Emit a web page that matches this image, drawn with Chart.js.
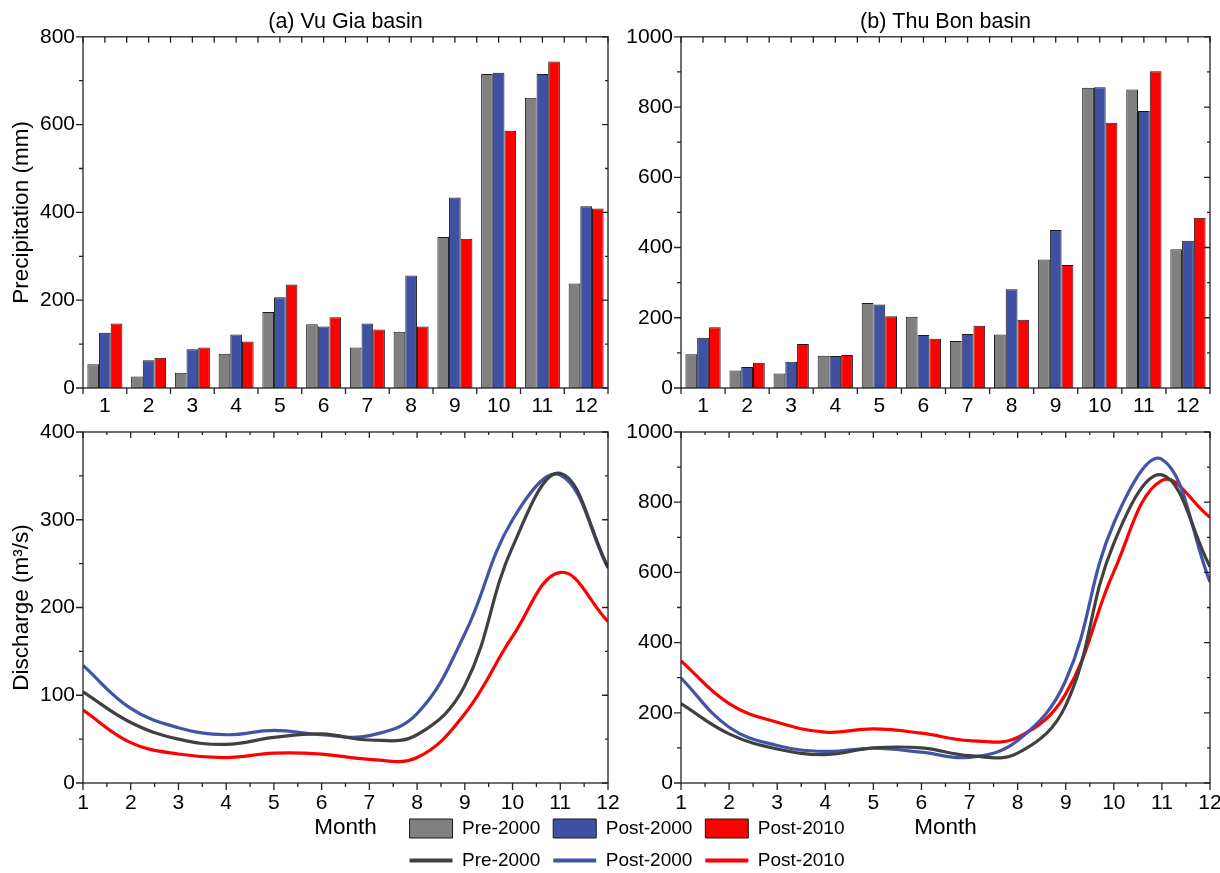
<!DOCTYPE html>
<html><head><meta charset="utf-8">
<script src="https://cdn.jsdelivr.net/npm/chart.js@4.4.0/dist/chart.umd.min.js"></script>
<style>
html,body{margin:0;padding:0;background:#fff;overflow:hidden;width:1220px;height:873px;position:relative;}
canvas{position:absolute;}
</style></head><body>
<canvas id="c1" width="620" height="420" style="left:0;top:0"></canvas>
<canvas id="c3" width="640" height="473" style="left:0;top:400px"></canvas>
<canvas id="c2" width="620" height="420" style="left:620px;top:0"></canvas>
<canvas id="c4" width="620" height="473" style="left:620px;top:400px"></canvas>
<canvas id="c5" width="500" height="160" style="left:377px;top:806px"></canvas>
<script>
// ---- data ----
const monthLabels = ['1','2','3','4','5','6','7','8','9','10','11','12'];
const monthNums = [1,2,3,4,5,6,7,8,9,10,11,12];
const seriesNames = ['Pre-2000','Post-2000','Post-2010'];

const vgPrecipPre2000  = [54,26,35,78,173,145,92,128,344,715,661,238];
const vgPrecipPost2000 = [126,63,88,122,207,140,147,256,434,718,715,414];
const vgPrecipPost2010 = [147,69,92,106,236,161,133,140,340,586,744,409];

const tbPrecipPre2000  = [96,50,41,92,242,203,134,152,366,855,850,395];
const tbPrecipPost2000 = [143,60,75,91,238,151,154,281,450,856,789,419];
const tbPrecipPost2010 = [173,72,125,94,204,140,177,194,350,755,902,485];

const vgFlowPre2000  = [104,69,50,44,52,56,49,55,111,269,353,246];
const vgFlowPost2000 = [134,85,63,55,60,55,54,79,170,300,351,245];
const vgFlowPost2010 = [83,46,33,29,34,33,27,29,79,167,240,184];

const tbFlowPre2000  = [226,140,97,81,100,100,78,85,221,683,878,616];
const tbFlowPost2000 = [299,159,107,90,99,88,73,121,292,740,922,573];
const tbFlowPost2010 = [348,226,173,145,154,142,121,130,254,602,862,757];

const barColors  = ['#808080','#3F51A3','#FF0000'];
const lineColors = ['#404040','#4453A8','#FF0000'];
const F = "'Liberation Sans', Arial, sans-serif";
Chart.defaults.font.family = F;
Chart.defaults.color = '#000';

// ---- frame / ticks plugin ----
const framePlugin = {
  id: 'frame',
  afterDatasetsDraw(chart, args, opts) {
    const {ctx, chartArea: a, scales} = chart;
    ctx.save();
    ctx.strokeStyle = '#222';
    ctx.lineWidth = 1.3;
    ctx.strokeRect(a.left, a.top, a.right - a.left, a.bottom - a.top);
    ctx.beginPath();
    const y = scales.y;
    for (let v = y.min; v <= y.max + 1e-9; v += opts.yMinor) {
      const py = y.getPixelForValue(v);
      const r = v / opts.yMajor;
      const major = Math.abs(r - Math.round(r)) < 1e-6;
      ctx.moveTo(a.left - (major ? 7 : 4), py); ctx.lineTo(a.left, py);
      ctx.moveTo(a.right, py); ctx.lineTo(a.right - (major ? 6 : 3), py);
    }
    const x = scales.x;
    if (opts.category) {
      const n = chart.data.labels.length;
      const w = (a.right - a.left) / n;
      for (let i = 0; i <= n; i++) {
        const px = a.left + i * w;
        ctx.moveTo(px, a.bottom); ctx.lineTo(px, a.bottom + 6);
        ctx.moveTo(px, a.top); ctx.lineTo(px, a.top + 6);
      }
      for (let i = 0; i < n; i++) {
        const px = a.left + (i + 0.5) * w;
        ctx.moveTo(px, a.top); ctx.lineTo(px, a.top + 6);
      }
    } else {
      for (let v = x.min; v <= x.max + 1e-9; v += 0.5) {
        const px = x.getPixelForValue(v);
        const major = Math.abs(v - Math.round(v)) < 1e-6;
        ctx.moveTo(px, a.bottom); ctx.lineTo(px, a.bottom + (major ? 7 : 4));
        ctx.moveTo(px, a.top); ctx.lineTo(px, a.top + (major ? 6 : 3));
      }
    }
    ctx.stroke();
    ctx.restore();
  }
};

const TICK = 21, AXT = 22.5;

function barChart(id, title, vals, yMax, yStep, yTitle, yWidth, padRight) {
  return new Chart(document.getElementById(id), {
    type: 'bar',
    data: {
      labels: monthLabels,
      datasets: vals.map((d, i) => ({
        label: seriesNames[i], data: d,
        backgroundColor: barColors[i], borderColor: '#1a1a1a', borderWidth: 1,
        barPercentage: 1.0, categoryPercentage: 0.8
      }))
    },
    options: {
      responsive: false, animation: false,
      layout: {padding: {left: 0, right: padRight, top: 0, bottom: 0}},
      plugins: {
        legend: {display: false}, tooltip: {enabled: false},
        title: {display: true, text: title, fullSize: false, color: '#000',
                font: {size: 21.5, weight: 'normal'}, padding: {top: 9, bottom: 2}},
        frame: {category: true, yMajor: yStep, yMinor: yStep / 2}
      },
      scales: {
        x: {
          grid: {display: false, drawTicks: false}, border: {display: false},
          ticks: {font: {size: TICK}, color: '#000', padding: 6, maxRotation: 0, autoSkip: false},
          afterFit: s => { s.height = 32; }
        },
        y: {
          min: 0, max: yMax,
          grid: {display: false, drawTicks: false}, border: {display: false},
          ticks: {stepSize: yStep, font: {size: TICK}, color: '#000', padding: 8, callback: v => String(v)},
          title: {display: !!yTitle, text: yTitle, color: '#000', font: {size: AXT}, padding: {top: 8, bottom: 0}},
          afterFit: s => { s.width = yWidth; }
        }
      }
    },
    plugins: [framePlugin]
  });
}

function lineChart(id, vals, yMax, yStep, yTitle, yWidth, padRight) {
  return new Chart(document.getElementById(id), {
    type: 'line',
    data: {
      datasets: vals.map((d, i) => ({
        label: seriesNames[i],
        data: monthNums.map((m, k) => ({x: m, y: d[k]})),
        borderColor: lineColors[i], borderWidth: 3.2, pointRadius: 0,
        tension: 0.4, fill: false
      }))
    },
    options: {
      responsive: false, animation: false,
      layout: {padding: {left: 0, right: padRight, top: 32, bottom: 0}},
      plugins: {
        legend: {display: false}, tooltip: {enabled: false},
        frame: {category: false, yMajor: yStep, yMinor: yStep / 2}
      },
      scales: {
        x: {
          type: 'linear', min: 1, max: 12,
          grid: {display: false, drawTicks: false}, border: {display: false},
          ticks: {stepSize: 1, font: {size: TICK}, color: '#000', padding: 8, maxRotation: 0, autoSkip: false, callback: v => String(v)},
          title: {display: true, text: 'Month', color: '#000', font: {size: AXT}, padding: {top: 0, bottom: 32}},
          afterFit: s => { s.height = 90; }
        },
        y: {
          min: 0, max: yMax,
          grid: {display: false, drawTicks: false}, border: {display: false},
          ticks: {stepSize: yStep, font: {size: TICK}, color: '#000', padding: 8, callback: v => String(v)},
          title: {display: !!yTitle, text: yTitle, color: '#000', font: {size: AXT}, padding: {top: 8, bottom: 0}},
          afterFit: s => { s.width = yWidth; }
        }
      }
    },
    plugins: [framePlugin]
  });
}

barChart('c1', '(a) Vu Gia basin', [vgPrecipPre2000, vgPrecipPost2000, vgPrecipPost2010], 800, 200, 'Precipitation (mm)', 83, 12);
barChart('c2', '(b) Thu Bon basin', [tbPrecipPre2000, tbPrecipPost2000, tbPrecipPost2010], 1000, 200, '', 61, 30);
lineChart('c3', [vgFlowPre2000, vgFlowPost2000, vgFlowPost2010], 400, 100, 'Discharge (m\u00B3/s)', 83, 32);
lineChart('c4', [tbFlowPre2000, tbFlowPost2000, tbFlowPost2010], 1000, 200, '', 61, 30);

// ---- shared legend ----
const legendItems = [
  ...seriesNames.map((n, i) => ({text: n, fillStyle: barColors[i], strokeStyle: '#1a1a1a', lineWidth: 1, pointStyle: 'rect', hidden: false, datasetIndex: i, fontColor: '#000'})),
  ...seriesNames.map((n, i) => ({text: n, fillStyle: lineColors[i], strokeStyle: lineColors[i], lineWidth: 4, pointStyle: 'line', hidden: false, datasetIndex: i + 3, fontColor: '#000'}))
];
new Chart(document.getElementById('c5'), {
  type: 'bar',
  data: {labels: [], datasets: [
    ...seriesNames.map((n, i) => ({label: n, data: [], backgroundColor: barColors[i]})),
    ...seriesNames.map((n, i) => ({type: 'line', label: n, data: [], borderColor: lineColors[i]}))
  ]},
  options: {
    responsive: false, animation: false,
    layout: {padding: 0},
    scales: {x: {display: false}, y: {display: false}},
    plugins: {
      tooltip: {enabled: false},
      legend: {display: true, position: 'top', align: 'center', maxHeight: 120,
        labels: {usePointStyle: true, pointStyleWidth: 43, boxHeight: 20, padding: 13, color: '#000',
                 font: {size: 19}, generateLabels: () => legendItems}}
    }
  }
});
</script>
</body></html>
